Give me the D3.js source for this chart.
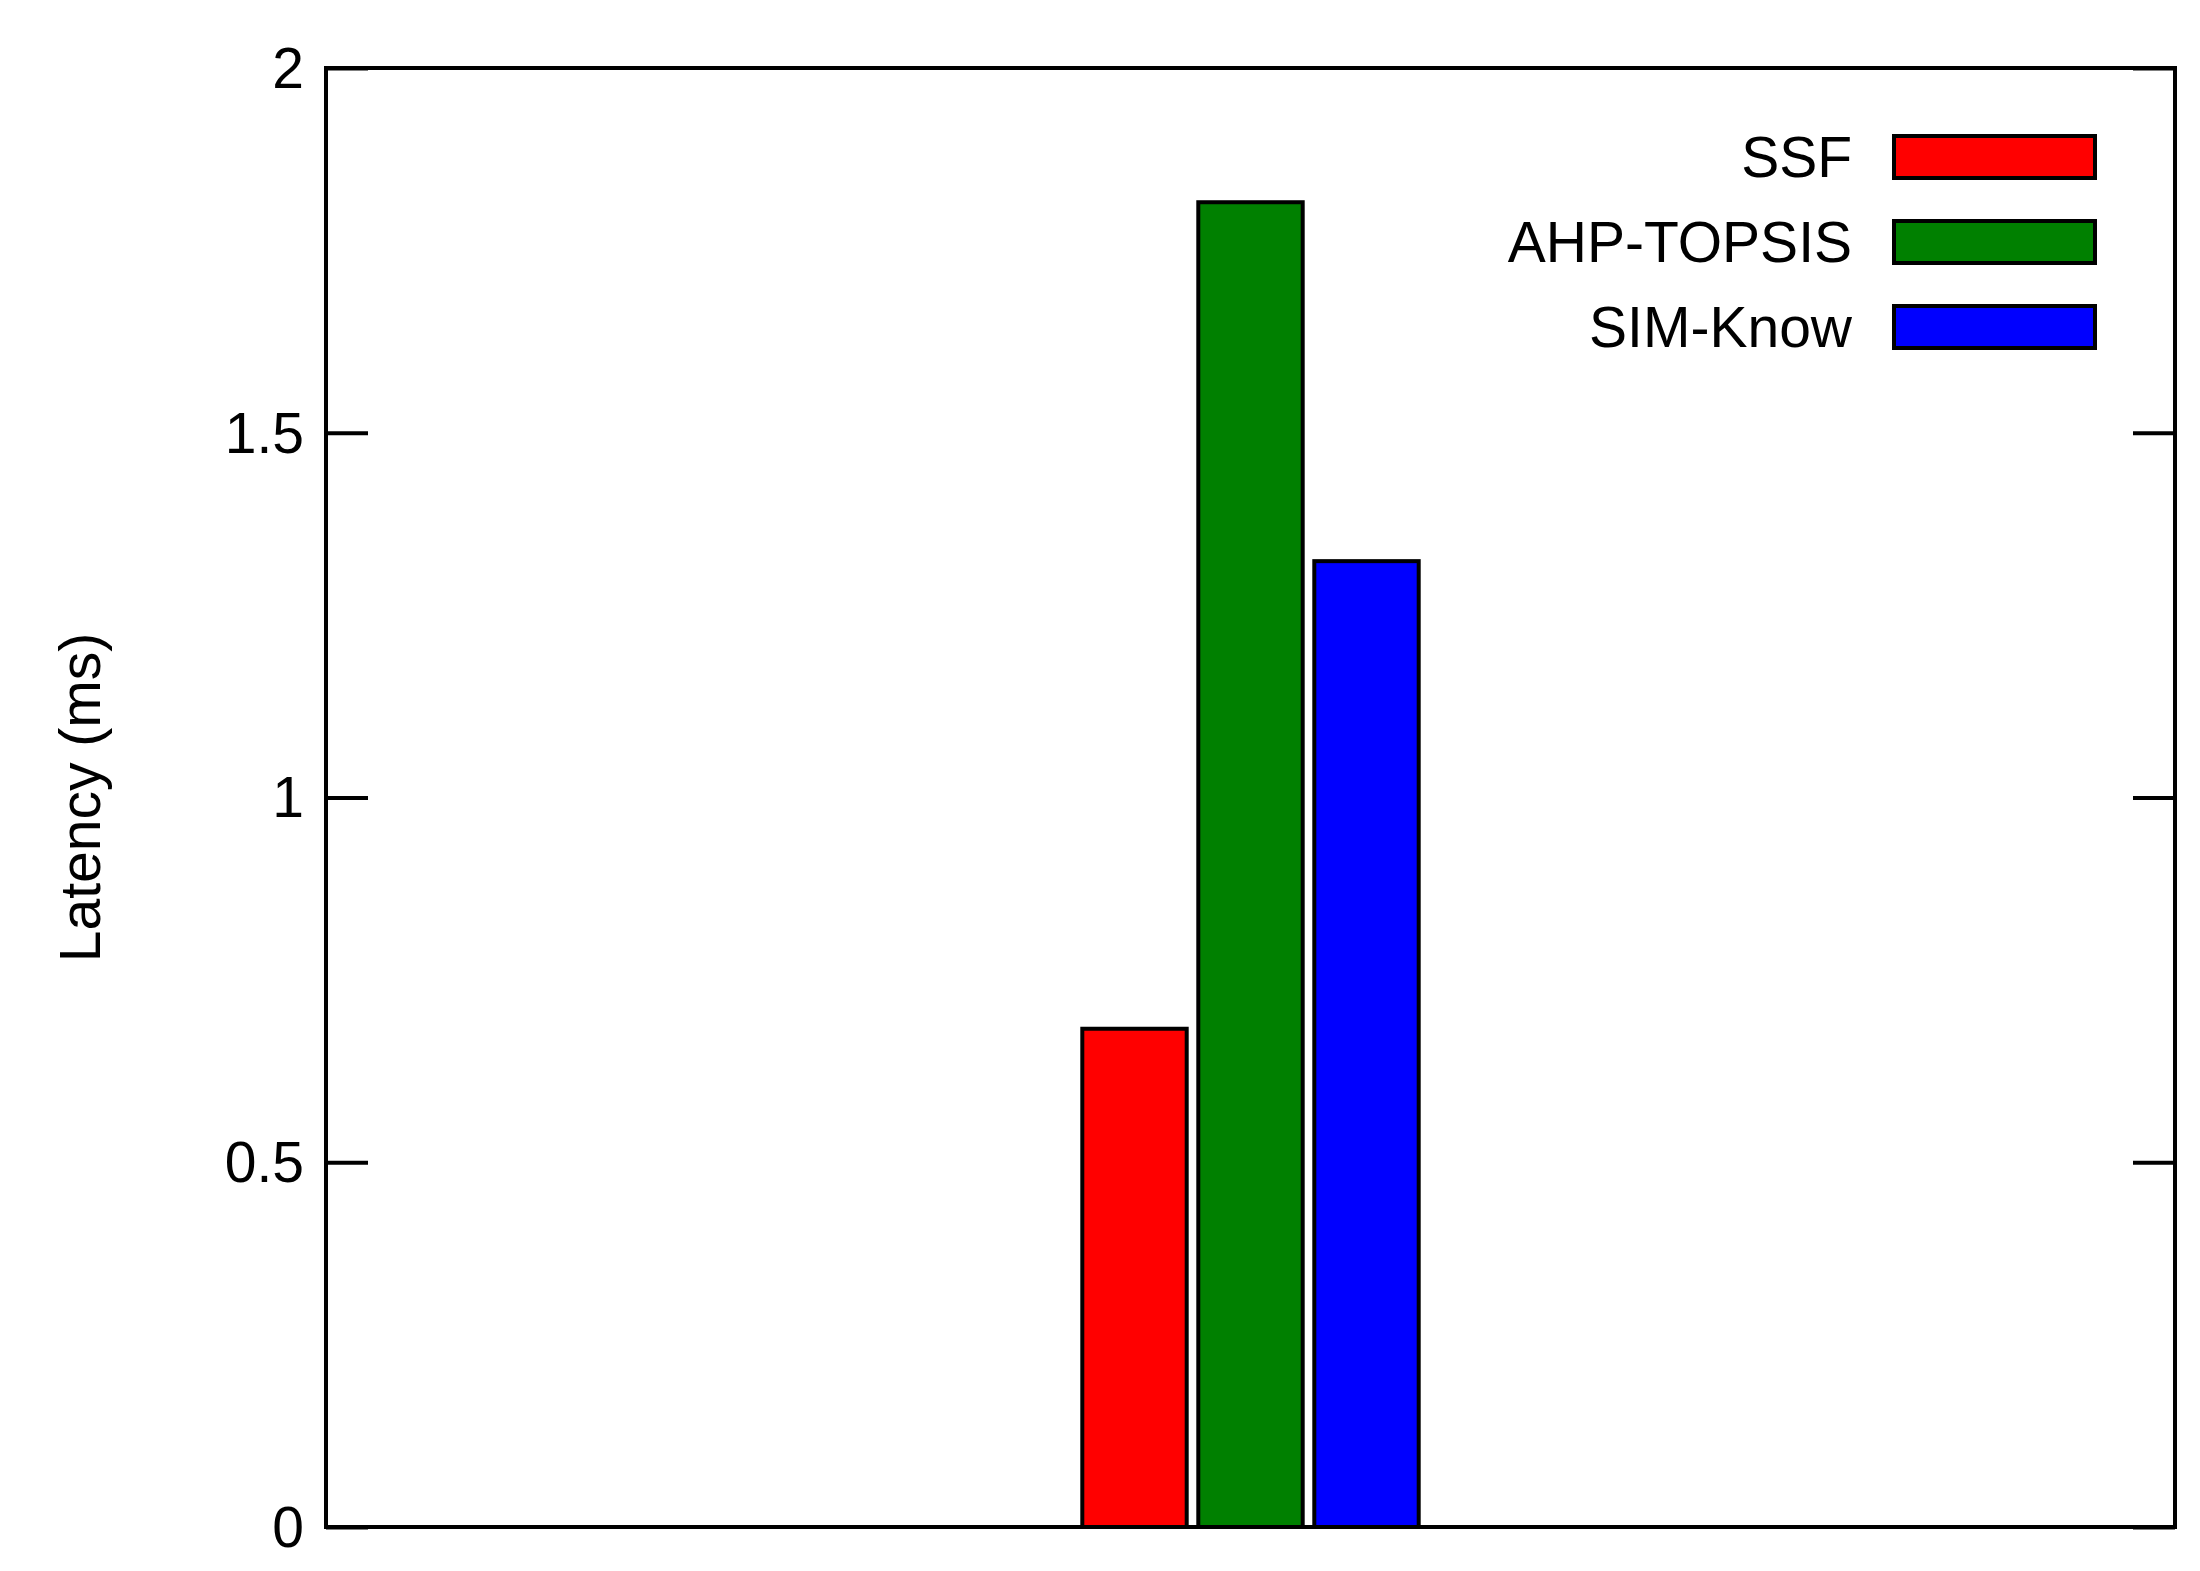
<!DOCTYPE html>
<html><head><meta charset="utf-8">
<script src="https://cdn.jsdelivr.net/npm/d3@7"></script>
<style>body{margin:0;background:#fff}text{font-family:"Liberation Sans",Arial,sans-serif;fill:#000}</style>
</head><body>
<svg id="chart" width="2200" height="1571"></svg>
<script>
var categories = [""]
var series = ["SSF", "AHP-TOPSIS", "SIM-Know"]
var values = [0.683, 1.816, 1.324]
var yTicks = [0, 0.5, 1, 1.5, 2]
var colors = ["#ff0000", "#008000", "#0000ff"]

var svg = d3.select("#chart"),
    margin = {top: 68, left: 326, right: 25, bottom: 44},
    width = +svg.attr("width"), height = +svg.attr("height")

var y = d3.scaleLinear().domain([0, 2]).range([height - margin.bottom, margin.top])
var x0 = d3.scalePoint().domain(categories).range([margin.left, width - margin.right]).padding(0.5)
var x1 = d3.scaleBand().domain(series).range([-174, 174]).paddingInner(0.1).paddingOuter(0.05)

// ticks inside on both sides
svg.append("g").attr("transform", `translate(${margin.left},0)`)
    .call(d3.axisRight(y).tickValues(yTicks).tickSize(42).tickFormat(""))
    .call(g => g.select(".domain").remove())
    .selectAll("line").attr("stroke-width", 4)
svg.append("g").attr("transform", `translate(${width - margin.right},0)`)
    .call(d3.axisLeft(y).tickValues(yTicks).tickSize(42).tickFormat(""))
    .call(g => g.select(".domain").remove())
    .selectAll("line").attr("stroke-width", 4)

svg.append("g").selectAll("text").data(yTicks).enter().append("text")
    .attr("x", margin.left - 22).attr("y", d => y(d))
    .attr("dy", "0.35em").attr("text-anchor", "end")
    .attr("font-size", 57).text(d => d)

svg.append("g").selectAll("rect").data(values).enter().append("rect")
    .attr("x", (d, i) => x0("") + x1(series[i]))
    .attr("y", d => y(d))
    .attr("width", x1.bandwidth())
    .attr("height", d => y(0) - y(d))
    .attr("fill", (d, i) => colors[i])
    .attr("stroke", "#000").attr("stroke-width", 4)

svg.append("rect")
    .attr("x", margin.left).attr("y", margin.top)
    .attr("width", width - margin.right - margin.left)
    .attr("height", height - margin.bottom - margin.top)
    .attr("fill", "none").attr("stroke", "#000").attr("stroke-width", 4)

svg.append("text")
    .attr("transform", `translate(100,${(margin.top + height - margin.bottom) / 2}) rotate(-90)`)
    .attr("text-anchor", "middle").attr("font-size", 57).text("Latency (ms)")

var legend = svg.append("g").attr("transform", "translate(0,157)")
series.forEach(function (s, i) {
    legend.append("text").attr("x", 1852).attr("y", i * 85)
        .attr("dy", "0.35em").attr("text-anchor", "end").attr("font-size", 57).text(s)
    legend.append("rect").attr("x", 1894).attr("y", i * 85 - 21)
        .attr("width", 201).attr("height", 42)
        .attr("fill", colors[i]).attr("stroke", "#000").attr("stroke-width", 4)
})
</script>
</body></html>
